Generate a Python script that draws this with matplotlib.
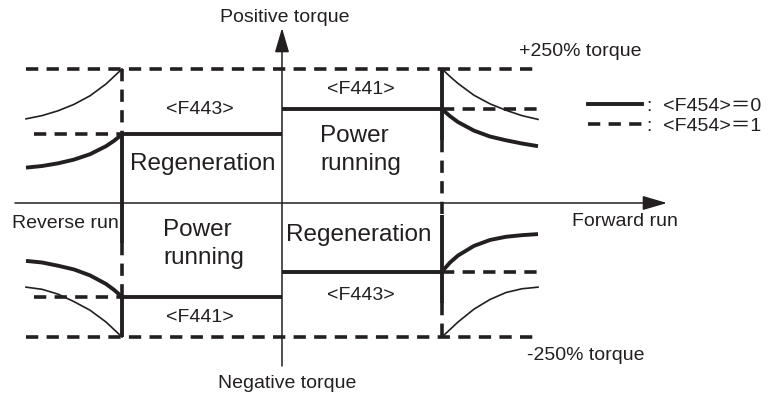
import matplotlib
matplotlib.use("Agg")
import matplotlib.pyplot as plt
from matplotlib.lines import Line2D
from matplotlib.font_manager import FontProperties

# ---------------- data (speed in p.u. of base speed, torque in %) ----------------
torque_limit = 250          # +/-250% torque
f441 = 175                  # <F441> power-running torque limit
f443 = 128                  # <F443> regeneration torque limit
base_speed = 1.0            # switching speed
curve_end = 1.6             # extent of the curves

spd = [1.0, 1.05, 1.1, 1.2, 1.3, 1.4, 1.5, 1.6]
fwd_pos_thin = [250, 236, 223, 201, 185, 173, 163, 156]      # forward, positive, 250% limit
fwd_pos_thick = [175, 162, 151, 135, 124, 117, 111, 106]     # forward, positive, F441
rev_pos_thin = [250, 236, 222, 200, 184, 172, 163, 157]      # reverse, positive, 250% limit
rev_pos_thick = [128, 116, 106, 91, 81, 74, 69, 66]          # reverse, positive, F443
rev_neg_thick = [-175, -162, -151, -135, -124, -117, -111, -108]
rev_neg_thin = [-250, -236, -222, -200, -184, -170, -161, -157]
fwd_neg_thick = [-128, -111, -98, -80, -69, -63, -60, -58]
fwd_neg_thin = [-250, -236, -222, -198, -180, -167, -160, -157]

# boundary (vertical) segments at -base / +base: (from, to, style)
left_segments = [(250, 128, "dash"), (128, -75, "solid"), (-75, -175, "dash"), (-175, -250, "solid")]
right_segments = [(250, 117, "solid"), (117, -22, "dash"), (-22, -187, "solid"), (-187, -250, "dash")]

legend_labels = [":  <F454>\uff1d0", ":  <F454>\uff1d1"]

# ---------------- figure ----------------
W, H, DPI = 769, 397, 100
fig = plt.figure(figsize=(W / DPI, H / DPI), dpi=DPI)
ax = fig.add_axes([0, 0, 1, 1])
ax.set_axis_off()

X0, Y0 = 282, 203           # pixel position of origin
SX = 160.0                  # px per p.u. speed
SY = 134.0 / 250.0          # px per % torque
ax.set_xlim(-X0 / SX, (W - X0) / SX)
ax.set_ylim(-(H - Y0) / SY, Y0 / SY)


def P(x, y):
    return ((x - X0) / SX, (Y0 - y) / SY)


K = "#231f20"
THICK = 2.8
THIN = 1.2
DLW = 2.6
DASH = (0, (3.4, 2.3))
FONT = "Liberation Sans"
SMALL = 14
BIG = 17.5

neg = [-s for s in spd]

# +/-250% dashed limits
ax.plot([-curve_end, curve_end], [torque_limit, torque_limit], color=K, lw=DLW, ls=DASH)
ax.plot([-curve_end, curve_end], [-torque_limit, -torque_limit], color=K, lw=DLW, ls=DASH)

# level lines (solid inside, dashed outside)
ax.plot([-base_speed, 0], [f443, f443], color=K, lw=THICK, solid_capstyle="butt")
ax.plot([0, base_speed], [f441, f441], color=K, lw=THICK, solid_capstyle="butt")
ax.plot([-base_speed, 0], [-f441, -f441], color=K, lw=THICK, solid_capstyle="butt")
ax.plot([0, base_speed], [-f443, -f443], color=K, lw=THICK, solid_capstyle="butt")
ax.plot([-curve_end + 0.05, -base_speed], [f443, f443], color=K, lw=DLW, ls=DASH)
ax.plot([base_speed, curve_end], [f441, f441], color=K, lw=DLW, ls=DASH)
ax.plot([-curve_end + 0.05, -base_speed], [-f441, -f441], color=K, lw=DLW, ls=DASH)
ax.plot([base_speed, curve_end], [-f443, -f443], color=K, lw=DLW, ls=DASH)

# curves
ax.plot(spd, fwd_pos_thin, color=K, lw=THIN)
ax.plot(spd, fwd_pos_thick, color=K, lw=THICK, solid_capstyle="butt")
ax.plot(neg, rev_pos_thin, color=K, lw=THIN)
ax.plot(neg, rev_pos_thick, color=K, lw=THICK, solid_capstyle="butt")
ax.plot(neg, rev_neg_thick, color=K, lw=THICK, solid_capstyle="butt")
ax.plot(neg, rev_neg_thin, color=K, lw=THIN)
ax.plot(spd, fwd_neg_thick, color=K, lw=THICK, solid_capstyle="butt")
ax.plot(spd, fwd_neg_thin, color=K, lw=THIN)

# vertical boundaries
for xs, segs in ((-base_speed, left_segments), (base_speed, right_segments)):
    for a, b, st in segs:
        if st == "solid":
            ax.plot([xs, xs], [a, b], color=K, lw=THICK, solid_capstyle="butt")
        else:
            ax.plot([xs, xs], [a, b], color=K, lw=DLW, ls=DASH)

# axes with arrows
arrow = dict(arrowstyle="-|>,head_length=0.75,head_width=0.22", color=K, lw=1.1,
             shrinkA=0, shrinkB=0, mutation_scale=20)
ax.annotate("", xy=P(667, Y0), xytext=P(15, Y0), arrowprops=arrow)
ax.annotate("", xy=P(X0, 28), xytext=P(X0, 366), arrowprops=arrow)

# texts
def T(x, y, s, size=SMALL, ha="center", **kw):
    ax.text(*P(x, y), s, fontsize=size, ha=ha, va="center", color=K, family=FONT, **kw)

T(285, 17, "Positive torque")
T(287, 383, "Negative torque")
T(519, 51, "+250% torque", ha="left")
T(527, 356, "-250% torque", ha="left")
T(12, 223, "Reverse run", ha="left")
T(572, 222, "Forward run", ha="left")
T(200, 110, "<F443>")
T(361, 90, "<F441>")
T(200, 318, "<F441>")
T(361, 295, "<F443>")
T(203, 164, "Regeneration", size=BIG)
T(359, 235, "Regeneration", size=BIG)
T(320, 150, "Power\nrunning", size=BIG, ha="left", linespacing=1.3)
T(163, 244, "Power\nrunning", size=BIG, ha="left", linespacing=1.3)

# legend
handles = [Line2D([], [], color=K, lw=THICK),
           Line2D([], [], color=K, lw=DLW, ls=DASH)]
leg = ax.legend(handles, legend_labels, loc="upper left",
                bbox_to_anchor=(588 / W, 1 - 97 / H), bbox_transform=fig.transFigure,
                frameon=False, borderpad=0, borderaxespad=0, handlelength=2.8,
                handletextpad=0.25, labelspacing=0.15,
                prop=FontProperties(family=[FONT, "Noto Sans CJK JP"], size=SMALL))
for t in leg.get_texts():
    t.set_color(K)

fig.savefig("out.png", dpi=DPI)
